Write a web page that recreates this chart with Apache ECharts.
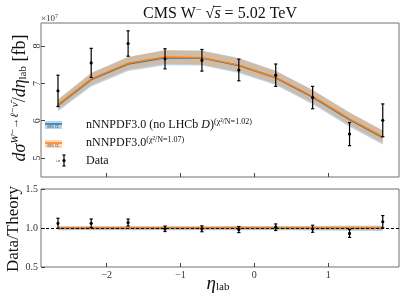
<!DOCTYPE html>
<html><head><meta charset="utf-8">
<script src="https://cdn.jsdelivr.net/npm/echarts@6/dist/echarts.min.js"></script>
<style>html,body{margin:0;padding:0;background:#fff}#c{width:407px;height:305px}</style>
</head><body><div id="c"></div>
<script>
// ---- data (values in units of 1e7 fb) ----
const etaLab = [-2.66, -2.21, -1.71, -1.21, -0.71, -0.21, 0.29, 0.79, 1.29, 1.74];
const dataVal = [6.80, 7.55, 8.07, 7.66, 7.62, 7.36, 7.22, 6.62, 5.64, 6.01];
const dataErr = [0.42, 0.39, 0.34, 0.27, 0.29, 0.29, 0.30, 0.30, 0.31, 0.44];
const thOrange = [6.43, 7.12, 7.54, 7.71, 7.69, 7.49, 7.16, 6.65, 6.05, 5.57];
const thOrangeErr = [0.14, 0.16, 0.17, 0.18, 0.18, 0.18, 0.17, 0.17, 0.17, 0.17];
const thBlue = [6.41, 7.10, 7.52, 7.69, 7.68, 7.48, 7.15, 6.63, 6.03, 5.55];
const thBlueErr = [0.16, 0.18, 0.19, 0.20, 0.20, 0.20, 0.19, 0.19, 0.19, 0.19];
const ratioVal = [1.06, 1.06, 1.07, 0.99, 0.99, 0.98, 1.01, 0.99, 0.93, 1.08];
const ratioErr = [0.065, 0.055, 0.045, 0.035, 0.038, 0.039, 0.042, 0.045, 0.051, 0.079];
const ratioOrange = [1.0, 1.0, 1.0, 1.0, 1.0, 1.0, 1.0, 1.0, 1.0, 1.0];
const ratioOrangeErr = [0.022, 0.022, 0.023, 0.023, 0.023, 0.024, 0.024, 0.025, 0.028, 0.03];
const ratioBlue = [0.997, 0.997, 0.997, 0.997, 0.998, 0.998, 0.998, 0.997, 0.997, 0.996];
const ratioBlueErr = [0.025, 0.025, 0.025, 0.026, 0.026, 0.027, 0.027, 0.028, 0.031, 0.033];
const xTicks = [-2, -1, 0, 1];
const yTicksTop = [5, 6, 7, 8];
const yTicksBottom = [0.5, 1.0, 1.5];

const FONT = '"Liberation Serif", "DejaVu Serif", serif';
const BLUE = '#1f77b4', ORANGE = '#ff7f0e';
const FRAME = '#707070';

function bandSeries(name, xi, yi, vals, errs, color) {
  return {
    type: 'custom', name: name, xAxisIndex: xi, yAxisIndex: yi, silent: true,
    data: etaLab.map((x, i) => [x, vals[i] - errs[i], vals[i] + errs[i]]),
    encode: { x: 0, y: [1, 2] },
    renderItem: function (params, api) {
      if (params.dataIndex !== 0) return null;
      const up = [], lo = [];
      for (let i = 0; i < etaLab.length; i++) {
        up.push(api.coord([etaLab[i], vals[i] + errs[i]]));
        lo.unshift(api.coord([etaLab[i], vals[i] - errs[i]]));
      }
      return { type: 'polygon', shape: { points: up.concat(lo) }, style: { fill: color } };
    }
  };
}
function errSeries(xi, yi, vals, errs, cap) {
  return {
    type: 'custom', xAxisIndex: xi, yAxisIndex: yi, silent: true, z: 10,
    data: etaLab.map((x, i) => [x, vals[i], vals[i] - errs[i], vals[i] + errs[i]]),
    encode: { x: 0, y: [1, 2, 3] },
    renderItem: function (params, api) {
      const x = api.value(0);
      const p = api.coord([x, api.value(1)]);
      const lo = api.coord([x, api.value(2)]);
      const hi = api.coord([x, api.value(3)]);
      const st = { stroke: '#000', lineWidth: 1.2 };
      return { type: 'group', children: [
        { type: 'line', shape: { x1: lo[0], y1: lo[1], x2: hi[0], y2: hi[1] }, style: st },
        { type: 'line', shape: { x1: lo[0] - cap, y1: lo[1], x2: lo[0] + cap, y2: lo[1] }, style: st },
        { type: 'line', shape: { x1: hi[0] - cap, y1: hi[1], x2: hi[0] + cap, y2: hi[1] }, style: st },
        { type: 'circle', shape: { cx: p[0], cy: p[1], r: 1.6 }, style: { fill: '#000' } }
      ] };
    }
  };
}
function lineSeries(xi, yi, vals, color, z) {
  return { type: 'line', xAxisIndex: xi, yAxisIndex: yi, silent: true, z: z,
    data: etaLab.map((x, i) => [x, vals[i]]), symbol: 'none',
    lineStyle: { color: color, width: 1.5 } };
}

// title pieces measured for the sqrt overline
const mctx = document.createElement('canvas').getContext('2d');
function tw(t, f) { mctx.font = f; return mctx.measureText(t).width; }
const tF = '16px "Liberation Serif"', tFi = 'italic 16px "Liberation Serif"', tFs = '10px "Liberation Serif"';
const tParts = [['CMS W', tF], ['\u2212', tFs], ['\u00a0\u221a', tF], ['s', tFi], ['\u00a0= 5.02 TeV', tF]];
const tWidths = tParts.map(p => tw(p[0], p[1]));
const tTotal = tWidths.reduce((a, b) => a + b, 0);
const tStart = 220 - tTotal / 2;
const ovX1 = tStart + tWidths[0] + tWidths[1] + tWidths[2] - 1;
const ovX2 = ovX1 + tWidths[3] + 1.5;

const xAxisCommon = {
  type: 'value', min: -2.89, max: 1.96, position: 'bottom',
  axisLine: { show: false, onZero: false }, splitLine: { show: false },
  axisTick: { inside: true, length: 4, lineStyle: { color: '#444' }, customValues: xTicks },
};

const chart = echarts.init(document.getElementById('c'), null, { renderer: 'canvas' });
chart.setOption({
  animation: false,
  backgroundColor: '#fff',
  grid: [
    { left: 41, top: 23, width: 358, height: 154, show: true, borderColor: FRAME, borderWidth: 1, backgroundColor: 'transparent' },
    { left: 41, top: 189, width: 358, height: 78, show: true, borderColor: FRAME, borderWidth: 1, backgroundColor: 'transparent' }
  ],
  xAxis: [
    Object.assign({}, xAxisCommon, { gridIndex: 0, axisLabel: { show: false, customValues: xTicks } }),
    Object.assign({}, xAxisCommon, { gridIndex: 1, axisLabel: { show: true, customValues: xTicks, margin: 3,
      fontFamily: FONT, fontSize: 10, color: '#333', formatter: v => (v < 0 ? '\u2212' + (-v) : '' + v) } })
  ],
  yAxis: [
    { type: 'value', gridIndex: 0, min: 4.49, max: 8.62, position: 'left', axisLine: { show: false, onZero: false }, splitLine: { show: false },
      axisTick: { inside: true, length: 4, lineStyle: { color: '#444' }, customValues: yTicksTop },
      axisLabel: { customValues: yTicksTop, rotate: 90, margin: -1, fontFamily: FONT, fontSize: 10, color: '#333' } },
    { type: 'value', gridIndex: 1, min: 0.5, max: 1.5, position: 'left', axisLine: { show: false, onZero: false }, splitLine: { show: false },
      axisTick: { inside: true, length: 4, lineStyle: { color: '#444' }, customValues: yTicksBottom },
      axisLabel: { customValues: yTicksBottom, margin: 3, fontFamily: FONT, fontSize: 10, color: '#333', formatter: v => v.toFixed(1) } }
  ],
  series: [
    bandSeries('bandB', 0, 0, thBlue, thBlueErr, 'rgba(31,119,180,0.3)'),
    bandSeries('bandO', 0, 0, thOrange, thOrangeErr, 'rgba(255,127,14,0.3)'),
    lineSeries(0, 0, thBlue, BLUE, 3),
    lineSeries(0, 0, thOrange, ORANGE, 4),
    errSeries(0, 0, dataVal, dataErr, 1.6),
    bandSeries('rbandB', 1, 1, ratioBlue, ratioBlueErr, 'rgba(31,119,180,0.3)'),
    bandSeries('rbandO', 1, 1, ratioOrange, ratioOrangeErr, 'rgba(255,127,14,0.3)'),
    lineSeries(1, 1, ratioBlue, BLUE, 3),
    Object.assign(lineSeries(1, 1, ratioOrange, ORANGE, 4), {
      markLine: { silent: true, symbol: 'none', label: { show: false },
        lineStyle: { color: '#000', type: [3, 2], width: 1 }, data: [{ yAxis: 1 }] } }),
    errSeries(1, 1, ratioVal, ratioErr, 1.6)
  ],
  graphic: [
    { type: 'text', x: tStart, y: 14, style: { text: 'CMS W{s|\u2212}\u00a0\u221a{o|s}\u00a0= 5.02 TeV', fontFamily: FONT, fontSize: 16,
      align: 'left', verticalAlign: 'middle', fill: '#111',
      rich: { s: { fontSize: 10, fontFamily: FONT, padding: [0, 0, 8, 0] },
              o: { fontSize: 16, fontFamily: FONT, fontStyle: 'italic' } } } },
    { type: 'line', shape: { x1: ovX1, y1: 6.5, x2: ovX2, y2: 6.5 }, style: { stroke: '#111', lineWidth: 0.8 } },
    { type: 'text', x: 41, y: 19, style: { text: '\u00d710{s|7}', fontFamily: FONT, fontSize: 9, fill: '#333',
      align: 'left', verticalAlign: 'middle', rich: { s: { fontSize: 6, fontFamily: FONT, padding: [0, 0, 5, 0] } } } },
    { type: 'text', x: 20, y: 98, rotation: Math.PI / 2, style: {
      text: '{m|d\u03c3}{s|W\u207b\u2192\u2113\u207b\u03bd\u0304}{r|/}{m|d\u03b7}{b|lab}{r| [fb]}',
      align: 'center', verticalAlign: 'middle', fill: '#111',
      rich: {
        m: { fontFamily: FONT, fontSize: 18, fontStyle: 'italic' },
        r: { fontFamily: FONT, fontSize: 18 },
        s: { fontFamily: FONT, fontSize: 11, fontStyle: 'italic', padding: [0, 0, 9, 0] },
        b: { fontFamily: FONT, fontSize: 11, padding: [6, 0, 0, 0] }
      } } },
    { type: 'text', x: 14, y: 229, rotation: Math.PI / 2, style: { text: 'Data/Theory', fontFamily: FONT, fontSize: 17,
      align: 'center', verticalAlign: 'middle', fill: '#111' } },
    { type: 'text', x: 218, y: 284, style: { text: '{m|\u03b7}{b|lab}', align: 'center', verticalAlign: 'middle', fill: '#111',
      rich: { m: { fontFamily: FONT, fontSize: 19, fontStyle: 'italic' }, b: { fontFamily: FONT, fontSize: 11, padding: [6, 0, 0, 0] } } } },
    // legend
    { type: 'rect', shape: { x: 45, y: 121, width: 17, height: 8 }, style: { fill: 'rgba(31,119,180,0.3)' } },
    { type: 'line', shape: { x1: 45, y1: 124, x2: 62, y2: 124 }, style: { stroke: BLUE, lineWidth: 1.5 } },
    { type: 'text', x: 53.5, y: 127, style: { text: '68% CL', fontFamily: FONT, fontSize: 3.5, fill: '#333', align: 'center', verticalAlign: 'middle' } },
    { type: 'rect', shape: { x: 45, y: 140, width: 17, height: 8 }, style: { fill: 'rgba(255,127,14,0.3)' } },
    { type: 'line', shape: { x1: 45, y1: 143, x2: 62, y2: 143 }, style: { stroke: ORANGE, lineWidth: 1.5 } },
    { type: 'text', x: 53.5, y: 146, style: { text: '68% CL', fontFamily: FONT, fontSize: 3.5, fill: '#333', align: 'center', verticalAlign: 'middle' } },
    { type: 'line', shape: { x1: 64, y1: 155, x2: 64, y2: 166 }, style: { stroke: '#000', lineWidth: 1.2 } },
    { type: 'line', shape: { x1: 62.5, y1: 155, x2: 65.5, y2: 155 }, style: { stroke: '#000', lineWidth: 1.2 } },
    { type: 'line', shape: { x1: 62.5, y1: 166, x2: 65.5, y2: 166 }, style: { stroke: '#000', lineWidth: 1.2 } },
    { type: 'circle', shape: { cx: 64, cy: 160.5, r: 1.6 }, style: { fill: '#000' } },
    { type: 'text', x: 58, y: 161, style: { text: '\u00b1\u03c3', fontFamily: FONT, fontSize: 4, fill: '#333', align: 'center', verticalAlign: 'middle' } },
    { type: 'text', x: 86, y: 125, style: { text: 'nNNPDF3.0 (no LHCb {i|D}){s|(\u03c7\u00b2/N=1.02)}', fontFamily: FONT, fontSize: 12, fill: '#111',
      align: 'left', verticalAlign: 'middle', rich: { i: { fontFamily: FONT, fontSize: 12, fontStyle: 'italic' }, s: { fontFamily: FONT, fontSize: 8, padding: [0, 0, 7, 0] } } } },
    { type: 'text', x: 86, y: 143, style: { text: 'nNNPDF3.0{s|(\u03c7\u00b2/N=1.07)}', fontFamily: FONT, fontSize: 12, fill: '#111',
      align: 'left', verticalAlign: 'middle', rich: { s: { fontFamily: FONT, fontSize: 8, padding: [0, 0, 7, 0] } } } },
    { type: 'text', x: 86, y: 161, style: { text: 'Data', fontFamily: FONT, fontSize: 12, fill: '#111', align: 'left', verticalAlign: 'middle' } }
  ]
});
</script></body></html>
